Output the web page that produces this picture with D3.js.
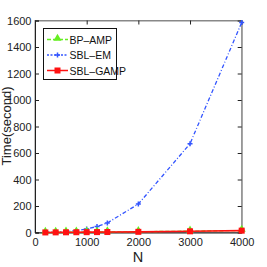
<!DOCTYPE html>
<html><head><meta charset="utf-8">
<script src="https://cdn.jsdelivr.net/npm/d3@7"></script>
<style>body{margin:0;background:#fff}svg{display:block}text{font-family:"Liberation Sans Narrow","Arial Narrow","Liberation Sans",Arial,sans-serif}</style>
</head><body>
<svg id="c" width="267" height="267"></svg>
<script>
const N = [200, 400, 600, 800, 1000, 1200, 1400, 2000, 3000, 4000];
const bpAmp = [1, 1.5, 2, 2.5, 3, 3.5, 4, 6, 10, 15];
const sblEm = [2, 4, 8, 14, 27, 45, 72, 215, 670, 1585];
const sblGamp = [0.5, 1, 1.5, 2, 2.5, 3, 3.5, 5, 9, 14];
const xTicks = [0, 1000, 2000, 3000, 4000];
const yTicks = [0, 200, 400, 600, 800, 1000, 1200, 1400, 1600];
const seriesNames = ["BP\u2013AMP", "SBL\u2013EM", "SBL\u2013GAMP"];

const FONT = "'Liberation Sans Narrow','Arial Narrow','Liberation Sans',Arial,sans-serif";
const svg = d3.select("#c");
const x = d3.scaleLinear().domain([0, 4000]).range([35, 241.7]);
const y = d3.scaleLinear().domain([0, 1600]).range([232.5, 20.5]);

// box
svg.append("rect").attr("x", 35).attr("y", 20.5).attr("width", 206.7).attr("height", 212)
  .attr("fill", "none").attr("stroke", "#888").attr("stroke-width", 1);

const gx = svg.append("g").attr("transform", "translate(0,232.5)")
  .call(d3.axisBottom(x).tickValues(xTicks).tickSize(-4).tickPadding(6).tickFormat(d3.format("d")));
const gxt = svg.append("g").attr("transform", "translate(0,20.5)")
  .call(d3.axisTop(x).tickValues(xTicks).tickSize(-4).tickFormat(""));
const gy = svg.append("g").attr("transform", "translate(35,0)")
  .call(d3.axisLeft(y).tickValues(yTicks).tickSize(-4).tickPadding(3.5).tickFormat(d3.format("d")));
const gyr = svg.append("g").attr("transform", "translate(241.7,0)")
  .call(d3.axisRight(y).tickValues(yTicks).tickSize(-4).tickFormat(""));
[gx, gxt, gy, gyr].forEach(g => {
  g.select(".domain").attr("stroke", "#222");
  g.selectAll(".tick line").attr("stroke", "#222");
  g.selectAll("text").attr("font-size", 11).attr("fill", "#222").attr("font-family", FONT);
});
gxt.select(".domain").attr("stroke", "#888");
gyr.select(".domain").attr("stroke", "#888");

svg.append("text").attr("x", 138).attr("y", 262).attr("text-anchor", "middle")
  .attr("font-size", 14.5).attr("fill", "#222").text("N");
svg.append("text").attr("transform", "translate(10.5,126) rotate(-90)").attr("text-anchor", "middle")
  .attr("font-size", 13).attr("fill", "#222").text("Time(second)");

const line = d3.line().x((d, i) => x(N[i])).y(d => y(d));

// SBL-EM
svg.append("path").datum(sblEm).attr("d", line).attr("fill", "none")
  .attr("stroke", "#3355ff").attr("stroke-width", 1.3).attr("stroke-dasharray", "4,2,1,2");
svg.append("g").selectAll("path").data(sblEm).join("path")
  .attr("d", (d, i) => `M${x(N[i]) - 2.5},${y(d)}h5M${x(N[i])},${y(d) - 2.5}v5`)
  .attr("stroke", "#3355ff").attr("stroke-width", 1.5);

// BP-AMP
svg.append("path").datum(bpAmp).attr("d", line).attr("fill", "none")
  .attr("stroke", "#66ee22").attr("stroke-width", 1.3).attr("stroke-dasharray", "4,2");
svg.append("g").selectAll("path").data(bpAmp).join("path")
  .attr("d", d3.symbol(d3.symbolTriangle, 28))
  .attr("transform", (d, i) => `translate(${x(N[i])},${y(d) - 1})`)
  .attr("fill", "#66ee22");

// SBL-GAMP
svg.append("path").datum(sblGamp).attr("d", line).attr("fill", "none")
  .attr("stroke", "#ff1111").attr("stroke-width", 1.6);
svg.append("g").selectAll("rect").data(sblGamp).join("rect")
  .attr("x", (d, i) => x(N[i]) - 3).attr("y", d => y(d) - 3)
  .attr("width", 6).attr("height", 6).attr("fill", "#ff1111");

// legend
const lg = svg.append("g");
lg.append("rect").attr("x", 43.5).attr("y", 28.5).attr("width", 73).attr("height", 51)
  .attr("fill", "#fff").attr("stroke", "#111").attr("stroke-width", 1);
const ly = [39.5, 55, 70.5];
const lcol = ["#66ee22", "#3355ff", "#ff1111"];
const ldash = ["4,2", "2,1.5", null];
ly.forEach((yy, i) => {
  lg.append("line").attr("x1", 47).attr("x2", 68).attr("y1", yy).attr("y2", yy)
    .attr("stroke", lcol[i]).attr("stroke-width", 1.5).attr("stroke-dasharray", ldash[i]);
  if (i === 0) lg.append("path").attr("d", d3.symbol(d3.symbolTriangle, 28)).attr("transform", `translate(57.5,${yy - 1})`).attr("fill", lcol[i]);
  if (i === 1) lg.append("path").attr("d", `M55,${yy}h5M57.5,${yy - 2.5}v5`).attr("stroke", lcol[i]).attr("stroke-width", 1.5);
  if (i === 2) lg.append("rect").attr("x", 54.5).attr("y", yy - 3).attr("width", 6).attr("height", 6).attr("fill", lcol[i]);
  lg.append("text").attr("x", 69.5).attr("y", yy + 4).attr("font-size", 10.5).attr("fill", "#111").text(seriesNames[i]);
});
</script>
</body></html>
